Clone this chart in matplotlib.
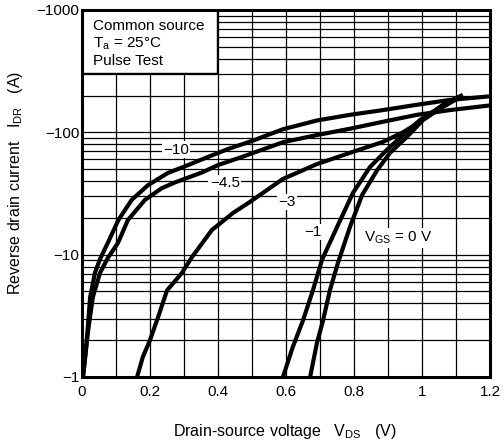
import matplotlib
matplotlib.use("Agg")
import matplotlib.pyplot as plt
import numpy as np
from matplotlib.ticker import FixedLocator, NullFormatter
from matplotlib.patches import Rectangle

plt.rcParams['font.family'] = ['Liberation Sans', 'DejaVu Sans']
plt.rcParams['mathtext.fontset'] = 'custom'
plt.rcParams['mathtext.rm'] = 'Liberation Sans'
plt.rcParams['mathtext.it'] = 'Liberation Sans'

# Data (VDS in V, |IDR| in A; plotted as negative currents)
vds_m10 = [0.003, 0.014, 0.024, 0.038, 0.053, 0.076, 0.107, 0.146, 0.194, 0.253, 0.312, 0.371, 0.429, 0.5, 0.591, 0.691, 0.788, 0.885, 0.985, 1.082, 1.2]
idr_m10 = [1, 2.0, 4.5, 7.1, 9.2, 12.5, 19.2, 28, 37, 46.6, 54, 63, 73, 85, 106, 125, 139, 152, 168, 184, 197]

vds_m45 = [0.003, 0.018, 0.032, 0.053, 0.076, 0.106, 0.135, 0.185, 0.235, 0.274, 0.353, 0.4, 0.471, 0.591, 0.691, 0.788, 0.885, 0.985, 1.082, 1.2]
idr_m45 = [1, 2.4, 4.5, 7.1, 9.4, 12.5, 19.2, 28, 35, 39, 47, 54, 63, 83, 95, 107, 122, 139, 152, 166]

vds_m3 = [0.162, 0.179, 0.2, 0.224, 0.25, 0.294, 0.324, 0.382, 0.444, 0.494, 0.591, 0.691, 0.788, 0.885, 0.944, 1.0, 1.06, 1.12]
idr_m3 = [1, 1.46, 2.0, 3.1, 5.1, 7.1, 9.6, 15.9, 21.9, 27, 41.6, 55, 68, 83.5, 100, 125, 160, 200]

vds_m1 = [0.591, 0.62, 0.65, 0.679, 0.706, 0.75, 0.797, 0.847, 0.897, 0.944, 0.994, 1.053, 1.12]
idr_m1 = [1, 1.76, 2.9, 5.1, 9.1, 16.8, 32, 52, 72, 95, 126, 161, 202]

vds_0 = [0.671, 0.691, 0.709, 0.729, 0.753, 0.788, 0.824, 0.868, 0.906, 0.956, 1.003, 1.062, 1.12]
idr_0 = [1, 1.9, 2.9, 5.1, 8.6, 16.8, 30.8, 49, 68, 92, 126, 168, 202]

y_ticks = [1, 10, 100, 1000]
y_ticklabels = ['\u22121', '\u221210', '\u2212100', '\u22121000']
x_ticks = [0, 0.2, 0.4, 0.6, 0.8, 1.0, 1.2]
x_ticklabels = ['0', '0.2', '0.4', '0.6', '0.8', '1', '1.2']

fig = plt.figure(figsize=(5.04, 4.48), dpi=100)
ax = fig.add_axes([82/504, 1-377/448, (490-82)/504, (377-10)/448])
ax.set_yscale('log')
ax.set_xlim(0, 1.2)
ax.set_ylim(1, 1000)

# grid
for v in np.arange(0.1, 1.2, 0.1):
    ax.axvline(v, color='black', lw=0.9, zorder=1)
for d in [1, 10, 100]:
    for m in range(1, 10):
        val = d * m
        if 1 < val < 1000:
            ax.axhline(val, color='black', lw=0.9, zorder=1)

lw = 3.0
for xs, ys in [(vds_m10, idr_m10), (vds_m45, idr_m45), (vds_m3, idr_m3), (vds_m1, idr_m1), (vds_0, idr_0)]:
    ax.plot(xs, ys, color='black', lw=lw, zorder=3, solid_capstyle='butt', solid_joinstyle='round')

ax.yaxis.set_minor_locator(FixedLocator([]))
ax.yaxis.set_minor_formatter(NullFormatter())
ax.set_yticks(y_ticks)
ax.set_yticklabels(y_ticklabels)
ax.set_xticks(x_ticks)
ax.set_xticklabels(x_ticklabels)
ax.tick_params(axis='both', which='both', length=0, labelsize=11)
ax.tick_params(axis='y', pad=2)
ax.tick_params(axis='x', pad=6)
for s in ax.spines.values():
    s.set_linewidth(2.2)
    s.set_zorder(5)

# text box
ax.text(0.027, 0.975, 'Common source\n$\\mathrm{T_a}$ = 25\u00b0C\nPulse Test',
        transform=ax.transAxes, ha='left', va='top', fontsize=11, linespacing=1.2,
        zorder=6)
ax.add_patch(Rectangle((0, 1 - 63/367), 135/408, 63/367, transform=ax.transAxes,
                       facecolor='white', edgecolor='black', lw=1.0, zorder=4))

bbox = dict(facecolor='white', edgecolor='none', pad=1.0)
ax.text(0.276, 72, '\u221210', ha='center', va='center', fontsize=11, bbox=bbox, zorder=2)
ax.text(0.42, 38.5, '\u22124.5', ha='center', va='center', fontsize=11, bbox=bbox, zorder=2)
ax.text(0.603, 27, '\u22123', ha='center', va='center', fontsize=11, bbox=bbox, zorder=2)
ax.text(0.68, 15.3, '\u22121', ha='center', va='center', fontsize=11, bbox=bbox, zorder=2)
ax.text(0.929, 13.7, '$\\mathrm{V_{GS}}$ = 0 V', ha='center', va='center', fontsize=11,
        bbox=bbox, zorder=2)

fig.text(285/504, 1 - 431/448, 'Drain-source voltage   $\\mathrm{V_{DS}}$   (V)',
         ha='center', va='center', fontsize=11.5)
fig.text(16/504, 1 - 183/448, 'Reverse drain current   $\\mathrm{I_{DR}}$   (A)',
         ha='center', va='center', fontsize=11.5, rotation=90)

fig.savefig('out.png', dpi=100)
